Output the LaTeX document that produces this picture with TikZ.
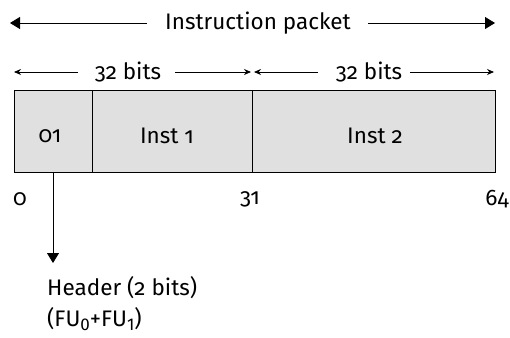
\documentclass[tikz,border=0pt]{standalone}
\usepackage{fontspec}
\setmainfont{Fira Sans}[Numbers=OldStyle]
\usetikzlibrary{arrows.meta}
\definecolor{boxgray}{HTML}{E0E0E0}
\newcommand{\subsc}[1]{\raisebox{-0.35ex}{\fontsize{17}{20}\selectfont\addfontfeature{Numbers=Lining}#1}}
\begin{document}
\begin{tikzpicture}[x=1pt,y=-1pt,
  lbl/.style={inner sep=0pt,font=\fontsize{22.5}{26}\selectfont},
  bigtip/.style={-{Triangle[length=10pt,width=12pt]}},
  smalltip/.style={-{Stealth[length=7pt,width=6pt]}},
  cell/.style={draw,fill=boxgray,line width=0.8pt}]
\useasboundingbox (0,0) rectangle (510,337);
% box
\draw[cell] (14,90) rectangle (92,172);
\draw[cell] (92,90) rectangle (252,172);
\draw[cell] (252,90) rectangle (495,172);
\node[lbl] (h) at (50,136) {01};
\node[lbl] (i1) at (167,136) {Inst 1};
\node[lbl] (i2) at (375,136) {Inst 2};
% top arrow
\node[lbl] (ip) at (258,23) {Instruction packet};
\coordinate (tl) at (10,23);
\coordinate (tr) at (495,23);
\coordinate (tla) at (147,23);
\coordinate (tra) at (368,23);
\draw[line width=0.8pt,bigtip] (tla) -- (tl);
\draw[line width=0.8pt,bigtip] (tra) -- (tr);
% 32 bits arrows
\node[lbl] (b1) at (128,72) {32 bits};
\node[lbl] (b2) at (369,72) {32 bits};
\coordinate (b1l) at (14,72);
\coordinate (b1la) at (78,72);
\coordinate (b1r) at (251,72);
\coordinate (b1ra) at (175,72);
\coordinate (b2l) at (254,72);
\coordinate (b2la) at (318,72);
\coordinate (b2r) at (494,72);
\coordinate (b2ra) at (410,72);
\draw[line width=0.8pt,smalltip] (b1la) -- (b1l);
\draw[line width=0.8pt,smalltip] (b1ra) -- (b1r);
\draw[line width=0.8pt,smalltip] (b2la) -- (b2l);
\draw[line width=0.8pt,smalltip] (b2ra) -- (b2r);
% bit labels
\node[lbl] (n0) at (20,199) {0};
\node[lbl] (n31) at (250,199) {31};
\node[lbl] (n64) at (497,199) {64};
% header arrow
\coordinate (hs) at (53,172);
\coordinate (he) at (53,263);
\node[lbl,anchor=west] (hd) at (47,288) {Header (2 bits)};
\node[lbl,anchor=west] (fu) at (47,319) {(FU\subsc{0}+FU\subsc{1})};
\draw[line width=0.8pt,bigtip] (hs) -- (he);
\end{tikzpicture}
\end{document}
